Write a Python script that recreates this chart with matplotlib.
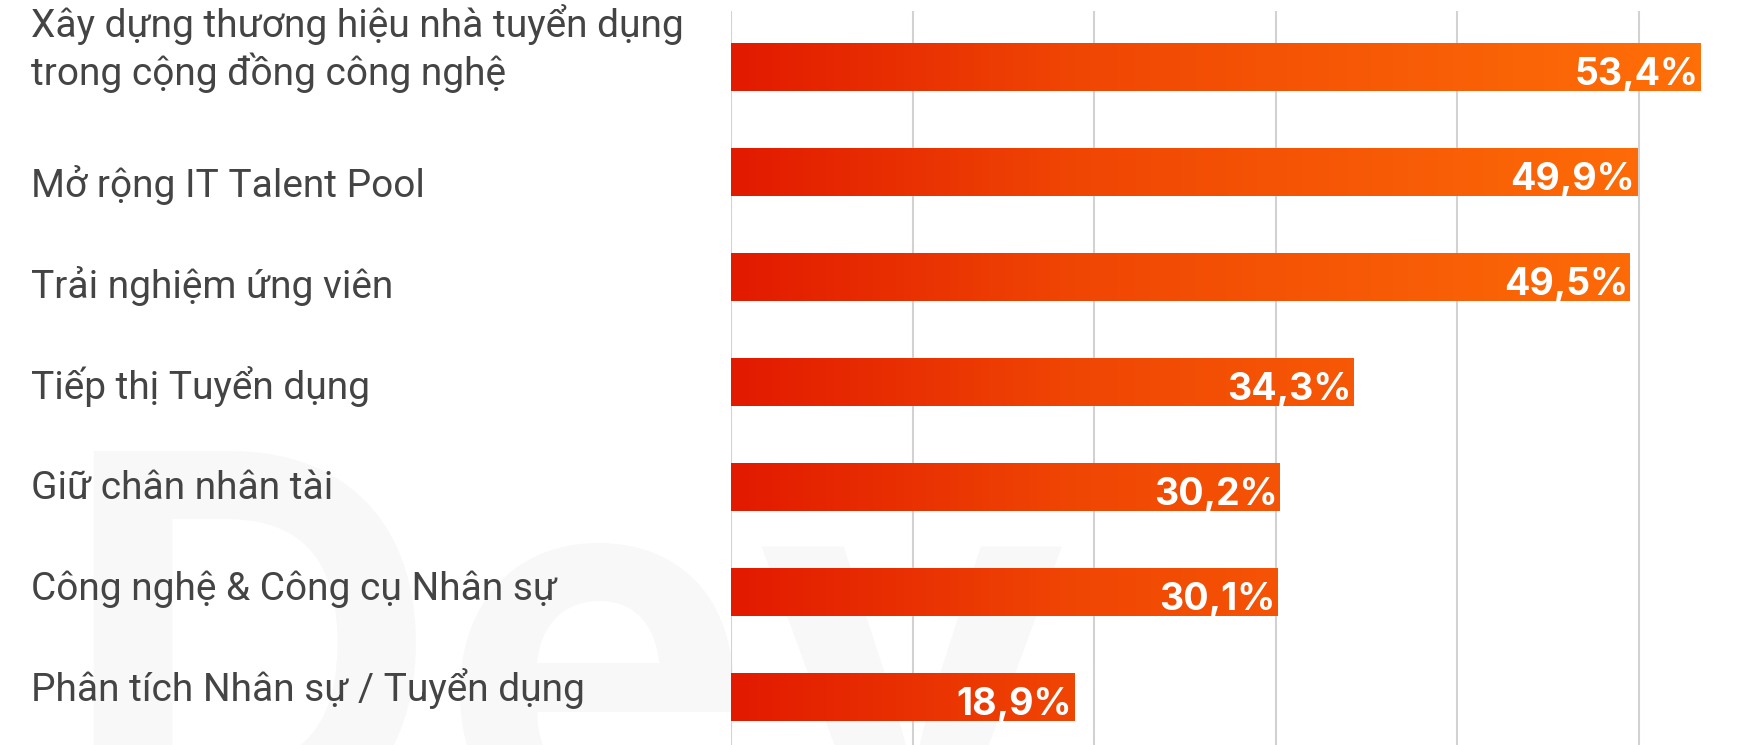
import matplotlib
matplotlib.use("Agg")
import matplotlib.pyplot as plt
import numpy as np
from matplotlib.colors import LinearSegmentedColormap

# Survey results: HR priorities (share of respondents, %)
categories = [
    "Xây dựng thương hiệu nhà tuyển dụng\ntrong cộng đồng công nghệ",
    "Mở rộng IT Talent Pool",
    "Trải nghiệm ứng viên",
    "Tiếp thị Tuyển dụng",
    "Giữ chân nhân tài",
    "Công nghệ & Công cụ Nhân sự",
    "Phân tích Nhân sự / Tuyển dụng",
]
values = [53.4, 49.9, 49.5, 34.3, 30.2, 30.1, 18.9]
value_labels = ["53,4%", "49,9%", "49,5%", "34,3%", "30,2%", "30,1%", "18,9%"]
grid_ticks = [0, 10, 20, 30, 40, 50]

W, H = 1744, 745
fig = plt.figure(figsize=(W / 100, H / 100), dpi=100)
fig.patch.set_facecolor("white")

# faint brand watermark behind the chart
fig.text(58 / W, 1 - 835 / H, "Dev", fontsize=380, family="Inter", fontweight="bold",
         color="#f8f8f8", ha="left", va="baseline", zorder=-2)

ax = fig.add_axes([731 / W, 0, 1 - 731 / W, 1 - 11 / H])
ax.set_facecolor("none")
ax.set_zorder(1)

xmax = (W - 731) / 18.16
ylim = (6 + 48 / 105, -56 / 105)

for s in ax.spines.values():
    s.set_visible(False)
ax.set_xticks(grid_ticks)
ax.set_yticks([])
ax.tick_params(axis="x", length=0, labelbottom=False)
ax.grid(axis="x", color="#d2d2d2", linewidth=1.5)
ax.set_axisbelow(True)

cmap = LinearSegmentedColormap.from_list(
    "bar_grad", [(0.0, "#E21A00"), (0.35, "#F04604"), (1.0, "#FF7008")])
grad = np.linspace(0, 1, 512).reshape(1, -1)
bar_h = 0.465
ypos = np.arange(len(values))

bars = ax.barh(ypos, values, height=bar_h, color="none", edgecolor="none", zorder=2)
for bar in bars:
    im = ax.imshow(grad, cmap=cmap, aspect="auto", extent=(0, 54.0, 7, -1),
                   interpolation="bicubic", zorder=2)
    im.set_clip_path(bar)
ax.set_xlim(0, xmax)
ax.set_ylim(*ylim)

for y, v, lab in zip(ypos, values, value_labels):
    ax.annotate(lab, xy=(v, y + 18 / 105), xytext=(-2, 0), textcoords="offset pixels",
                ha="right", va="baseline", color="white", fontsize=27,
                family="Inter", fontweight="bold", zorder=3)

# category labels, left column
label_x = 31 / W
for i, cat in enumerate(categories):
    lines = cat.split("\n")
    if i == 0:
        baselines = [37, 85]
    else:
        baselines = [197 + 100.8 * (i - 1)]
    for line, b in zip(lines, baselines):
        fig.text(label_x, 1 - b / H, line, ha="left", va="baseline",
                 fontsize=28, family="Roboto", color="#444444")

fig.savefig("out.png", dpi=100, facecolor="white")
